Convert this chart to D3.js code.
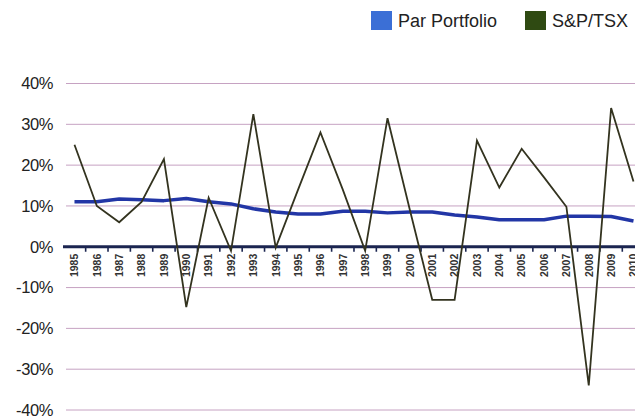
<!DOCTYPE html>
<html>
<head>
<meta charset="utf-8">
<script src="https://cdn.jsdelivr.net/npm/d3@7"></script>
<style>
  body { margin: 0; background: #fff; }
  svg { display: block; font-family: "Liberation Sans", Arial, sans-serif; }
</style>
</head>
<body>
<div id="chart"></div>
<script>
// Daten
const years = d3.range(1985, 2011);
const parPortfolio = [11, 11, 11.7, 11.5, 11.3, 11.8, 11, 10.5, 9.3, 8.5, 8, 8, 8.7, 8.7, 8.3, 8.5, 8.5, 7.8, 7.3, 6.6, 6.6, 6.6, 7.5, 7.5, 7.4, 6.3];
const spTsx = [25, 10, 6, 11, 21.5, -14.8, 12, -1, 32.5, -0.2, 14, 28, 14, -1, 31.5, 9, -13, -13, 26, 14.5, 24, 17, 9.8, -34, 34, 16];
const yTicks = [-40, -30, -20, -10, 0, 10, 20, 30, 40];
const series = [
  { name: "Par Portfolio", color: "#3b6fd6" },
  { name: "S&P/TSX", color: "#2f4a12" }
];

const W = 635, H = 420;
const svg = d3.select("#chart").append("svg").attr("width", W).attr("height", H);

// Skalen
const x = d3.scaleBand().domain(years).range([63.3, 63.3 + 26 * 22.36]);
const y = d3.scaleLinear().domain([-40, 40]).range([410, 83.5]);
const cx = d => x(d) + x.bandwidth() / 2;

// Gitterlinien
svg.append("g").selectAll("line")
  .data(yTicks.filter(d => d !== 0))
  .join("line")
  .attr("x1", 66).attr("x2", W)
  .attr("y1", d => y(d)).attr("y2", d => y(d))
  .attr("stroke", "#c6a2c2").attr("stroke-width", 1);

// Y-Achse Beschriftung
const yAxis = svg.append("g").attr("transform", "translate(53,0)")
  .call(d3.axisLeft(y).tickValues(yTicks).tickSize(0).tickPadding(0).tickFormat(d => d + "%"));
yAxis.select(".domain").remove();
yAxis.selectAll("text")
  .attr("font-size", 16.5).attr("fill", "#222").attr("letter-spacing", -0.4)
  .attr("font-family", "'Liberation Sans', Arial, sans-serif");

// Jahreslabels
const xAxis = svg.append("g").attr("transform", `translate(0,${y(0)})`)
  .call(d3.axisBottom(x).tickSize(0).tickPadding(0));
xAxis.select(".domain").remove();
xAxis.selectAll("text")
  .attr("transform", "rotate(-90)")
  .attr("text-anchor", "end")
  .attr("x", -7).attr("y", 0).attr("dy", "0.36em")
  .attr("font-size", 10.5).attr("font-weight", "bold").attr("fill", "#333")
  .attr("font-family", "'Liberation Sans Narrow', 'Liberation Sans', Arial, sans-serif");

// Ticks zwischen den Jahren
svg.append("g").selectAll("line")
  .data(years)
  .join("line")
  .attr("x1", d => x(d) + x.bandwidth()).attr("x2", d => x(d) + x.bandwidth())
  .attr("y1", y(0)).attr("y2", y(0) + 5)
  .attr("stroke", "#1b2550").attr("stroke-width", 1.6);

// Null-Linie
svg.append("line")
  .attr("x1", 63).attr("x2", W)
  .attr("y1", y(0)).attr("y2", y(0))
  .attr("stroke", "#1b2550").attr("stroke-width", 3);

// Linien
const line = d3.line().x((d, i) => cx(years[i])).y(d => y(d));
svg.append("path").datum(parPortfolio)
  .attr("d", line).attr("fill", "none")
  .attr("stroke", "#2236a6").attr("stroke-width", 3.5).attr("stroke-linejoin", "round");
svg.append("path").datum(spTsx)
  .attr("d", line).attr("fill", "none")
  .attr("stroke", "#33331f").attr("stroke-width", 1.8).attr("stroke-linejoin", "miter");

// Legende
const legX = [371, 525];
const leg = svg.append("g").selectAll("g").data(series).join("g")
  .attr("transform", (d, i) => `translate(${legX[i]},11)`);
leg.append("rect").attr("width", 21).attr("height", 19).attr("fill", d => d.color);
leg.append("text").attr("x", 27).attr("y", 16)
  .attr("font-size", 18).attr("fill", "#222")
  .text(d => d.name);
</script>
</body>
</html>
